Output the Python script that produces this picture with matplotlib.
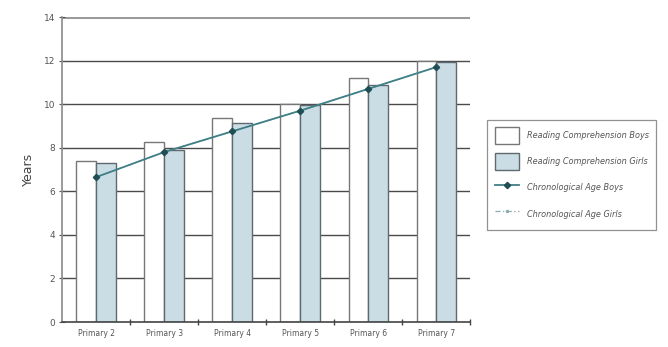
import numpy as np
import matplotlib.pyplot as plt
from matplotlib.ticker import FixedLocator

# reading comprehension age vs chronological age, by school year
years = ["Primary 2", "Primary 3", "Primary 4", "Primary 5", "Primary 6", "Primary 7"]
reading_boys = [7.4, 8.25, 9.35, 10.0, 11.2, 12.0]
reading_girls = [7.3, 7.9, 9.15, 9.95, 10.9, 11.95]
chrono_boys = [6.65, 7.8, 8.75, 9.7, 10.7, 11.7]
chrono_girls = [6.65, 7.8, 8.75, 9.7, 10.7, 11.7]

fig = plt.figure(figsize=(6.68, 3.47), dpi=100)
ax = fig.add_axes([0.093, 0.072, 0.611, 0.879])

x = np.arange(len(years))
w = 0.29
grey_txt = "#555555"

# horizontal grid behind bars
for yv in range(2, 14, 2):
    ax.axhline(yv, color="#4a4a4a", lw=1.0, zorder=0)
ax.axhline(14, color="#9a9a9a", lw=2.2, zorder=0)

ax.bar(x - w / 2, reading_boys, w, color="white", edgecolor="#777777",
       lw=1.0, label="Reading Comprehension Boys", zorder=2)
ax.bar(x + w / 2, reading_girls, w, color="#cadce4", edgecolor="#5f6a70",
       lw=1.0, label="Reading Comprehension Girls", zorder=2)

ax.plot(x, chrono_girls, color="#8fa9b3", lw=0.9, ls=(0, (4, 2, 1, 2)),
        marker="o", ms=1.5, label="Chronological Age Girls", zorder=3)
ax.plot(x, chrono_boys, color="#3f7f86", lw=1.3, marker="D", ms=3.2,
        mfc="#1f4f55", mec="#1f4f55", label="Chronological Age Boys", zorder=4)

ax.set_xlim(-0.5, len(years) - 0.5)
ax.set_ylim(0, 14)
ax.set_yticks(range(0, 15, 2))
ax.set_xticks(x)
ax.set_xticklabels(years)
ax.xaxis.set_minor_locator(FixedLocator(np.arange(0.5, len(years), 1.0)))
ax.tick_params(axis="x", which="major", length=0, labelsize=5.5,
               colors=grey_txt, pad=5)
ax.tick_params(axis="x", which="minor", length=4, direction="inout",
               color="#444444", width=1)
ax.tick_params(axis="y", length=4, direction="inout", labelsize=6.5,
               colors=grey_txt, pad=3)
ax.set_ylabel("Years", fontsize=9, color="#444444", labelpad=6)

for s in ["top", "right"]:
    ax.spines[s].set_visible(False)
ax.spines["left"].set_color("#8a8a8a")
ax.spines["left"].set_linewidth(1.2)
ax.spines["bottom"].set_color("#444444")
ax.spines["bottom"].set_linewidth(1.2)

handles, labels = ax.get_legend_handles_labels()
order = [labels.index(n) for n in ["Reading Comprehension Boys",
                                   "Reading Comprehension Girls",
                                   "Chronological Age Boys",
                                   "Chronological Age Girls"]]
leg = fig.legend([handles[i] for i in order], [labels[i] for i in order],
                 loc="center", bbox_to_anchor=(0.856, 0.496),
                 prop={"size": 5.9, "style": "italic"}, labelcolor="#555555",
                 fancybox=False, edgecolor="#777777", handlelength=3.0,
                 handleheight=2.8, labelspacing=1.15, borderpad=0.9,
                 handletextpad=0.9)
leg.get_frame().set_linewidth(0.9)

fig.savefig("out.png", dpi=100)
